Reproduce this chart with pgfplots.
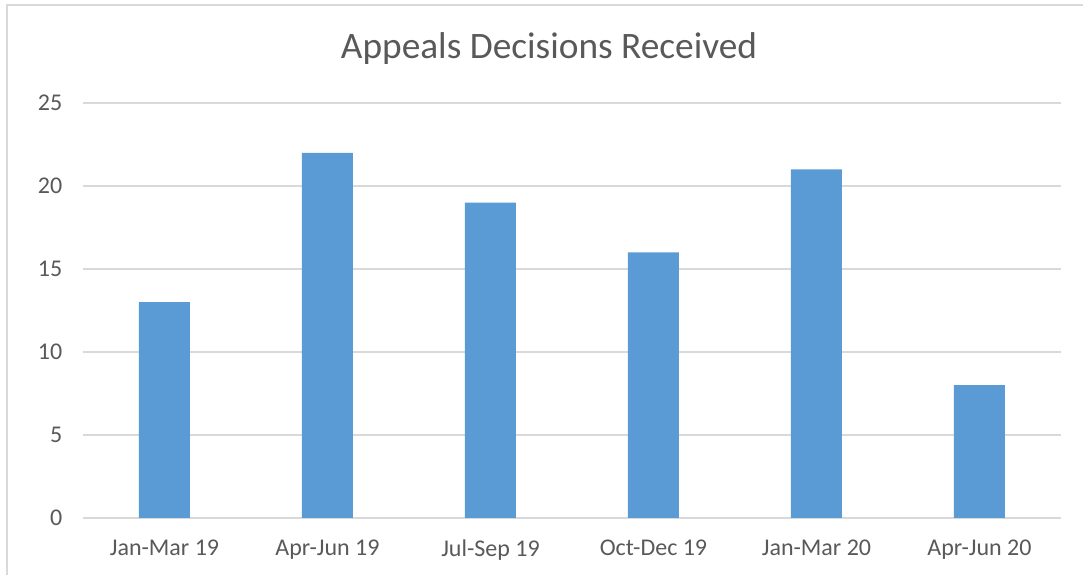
\documentclass[border=0pt]{standalone}
\usepackage{pgfplots}
\pgfplotsset{compat=1.18}
\usepackage{fontspec}
\setmainfont{Carlito}
\definecolor{barblue}{HTML}{5B9BD5}
\definecolor{txt}{HTML}{595959}
\definecolor{gridc}{HTML}{D9D9D9}
\begin{document}
\begin{tikzpicture}[x=0.75pt,y=0.75pt]
\path[use as bounding box] (0,0) rectangle (1083,575);
\draw[gridc, line width=1.5pt] (7,0) -- (7,570) -- (1083,570);
\node[txt, font=\fontsize{28}{33}\selectfont] at (549,526) {Appeals Decisions Received};
\begin{axis}[
  at={(62.25pt,42.75pt)}, anchor=south west,
  scale only axis, width=733.5pt, height=311.25pt,
  xmin=-0.5, xmax=5.5, ymin=0, ymax=25,
  xtick={0,1,2,3,4,5},
  xticklabels={Jan-Mar 19,Apr-Jun 19,Jul-Sep 19,Oct-Dec 19,Jan-Mar 20,Apr-Jun 20},
  ytick={0,5,10,15,20,25},
  ymajorgrids, grid style={gridc, line width=1.1pt},
  axis line style={draw=none},
  axis x line*=bottom, x axis line style={draw=gridc, line width=1.1pt},
  major tick length=0pt,
  tick label style={txt, font=\fontsize{18}{22}\selectfont},
  /pgf/number format/assume math mode=true,
  yticklabel style={xshift=-12pt},
  xticklabel style={yshift=-13pt},
  axis y line*=left, y axis line style={draw=none},
  clip=false,
]
\addplot[ybar, bar width=38.25pt, fill=barblue, draw=none] coordinates {
 (0,13) (1,22) (2,19) (3,16) (4,21) (5,8)};
\end{axis}
\end{tikzpicture}
\end{document}
